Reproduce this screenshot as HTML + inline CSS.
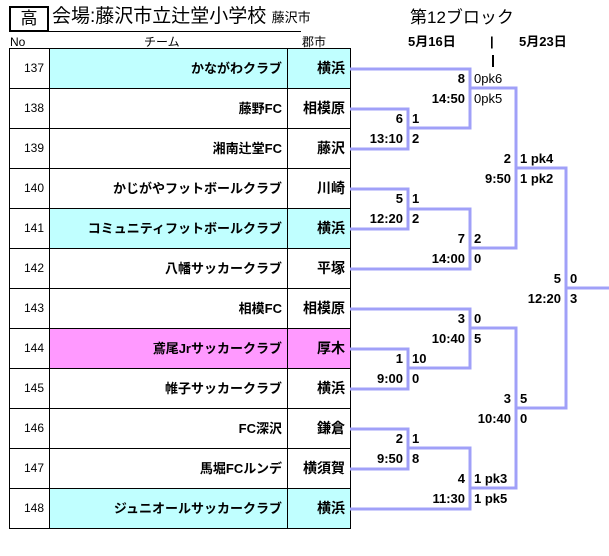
<!DOCTYPE html>
<html><head><meta charset="utf-8"><style>
body{margin:0;width:609px;height:556px;background:#fff;position:relative;overflow:hidden;font-family:"Liberation Sans","Noto Sans CJK JP",sans-serif;color:#000}
.a{position:absolute;white-space:nowrap;line-height:20px}
.r{text-align:right}
.c{position:absolute;box-sizing:border-box;border:1px solid #000;height:41px;line-height:39px;text-align:right;padding-right:5px;white-space:nowrap}
.n{left:9px;width:41px;font-size:12px}
.t{left:49px;width:239px;font-size:13px;font-weight:bold}
.k{left:287px;width:64px;font-size:14px;font-weight:bold}
.cy{background:#c0ffff}.pk{background:#ff99ff}
.l{position:absolute;font-size:13px;font-weight:bold;line-height:20px;white-space:nowrap}
</style></head><body>
<div class="a" style="left:9px;top:6px;width:36px;height:22px;border:2px solid #000;text-align:center;font-size:17px;line-height:22px">高</div>
<div class="a" style="left:52px;top:5px;font-size:19px;line-height:24px">会場:藤沢市立辻堂小学校 <span style="font-size:13px">藤沢市</span></div>
<div style="position:absolute;left:9px;top:31px;width:292px;border-top:1.5px solid #000"></div>
<div class="a" style="left:410px;top:8px;font-size:17px">第12ブロック</div>
<div class="a" style="left:408px;top:32px;font-size:13px;font-weight:bold">5月16日</div>
<div class="a" style="left:490px;top:32px;font-size:13px;font-weight:bold">|</div>
<div class="a" style="left:519px;top:32px;font-size:13px;font-weight:bold">5月23日</div>
<div style="position:absolute;left:492px;top:55px;width:2px;height:12px;background:#000"></div>
<div class="a" style="left:10px;top:32px;font-size:12px">No</div>
<div class="a" style="left:144px;top:32px;font-size:12px">チーム</div>
<div class="a" style="left:302px;top:32px;font-size:12px">郡市</div>

<div class="c n" style="top:48px">137</div><div class="c t cy" style="top:48px">かながわクラブ</div><div class="c k cy" style="top:48px">横浜</div>
<div class="c n" style="top:88px">138</div><div class="c t" style="top:88px">藤野FC</div><div class="c k" style="top:88px">相模原</div>
<div class="c n" style="top:128px">139</div><div class="c t" style="top:128px">湘南辻堂FC</div><div class="c k" style="top:128px">藤沢</div>
<div class="c n" style="top:168px">140</div><div class="c t" style="top:168px">かじがやフットボールクラブ</div><div class="c k" style="top:168px">川崎</div>
<div class="c n" style="top:208px">141</div><div class="c t cy" style="top:208px">コミュニティフットボールクラブ</div><div class="c k cy" style="top:208px">横浜</div>
<div class="c n" style="top:248px">142</div><div class="c t" style="top:248px">八幡サッカークラブ</div><div class="c k" style="top:248px">平塚</div>
<div class="c n" style="top:288px">143</div><div class="c t" style="top:288px">相模FC</div><div class="c k" style="top:288px">相模原</div>
<div class="c n" style="top:328px">144</div><div class="c t pk" style="top:328px">鳶尾Jrサッカークラブ</div><div class="c k pk" style="top:328px">厚木</div>
<div class="c n" style="top:368px">145</div><div class="c t" style="top:368px">帷子サッカークラブ</div><div class="c k" style="top:368px">横浜</div>
<div class="c n" style="top:408px">146</div><div class="c t" style="top:408px">FC深沢</div><div class="c k" style="top:408px">鎌倉</div>
<div class="c n" style="top:448px">147</div><div class="c t" style="top:448px">馬堀FCルンデ</div><div class="c k" style="top:448px">横須賀</div>
<div class="c n" style="top:488px">148</div><div class="c t cy" style="top:488px">ジュニオールサッカークラブ</div><div class="c k cy" style="top:488px">横浜</div>

<svg style="position:absolute;left:0;top:0" width="609" height="556"><g fill="none" stroke="#a0a0f8" stroke-width="3">
<polyline points="350,69 470,69 470,128 408,128"/>
<polyline points="350,109 408,109 408,149 350,149"/>
<polyline points="470,88 516,88 516,248 470,248"/>
<polyline points="350,189 408,189 408,229 350,229"/>
<polyline points="408,209 470,209 470,269 350,269"/>
<polyline points="516,168 566,168 566,408 516,408"/>
<line x1="566" y1="288" x2="609" y2="288"/>
<polyline points="350,309 470,309 470,368 408,368"/>
<polyline points="350,349 408,349 408,389 350,389"/>
<polyline points="470,328 516,328 516,488 470,488"/>
<polyline points="350,429 408,429 408,469 350,469"/>
<polyline points="408,448 470,448 470,509 350,509"/>
</g></svg>
<div class="l r" style="right:144px;top:69px">8</div><div class="l r" style="right:144px;top:89px">14:50</div>
<div class="l" style="left:474px;top:69px;font-weight:normal">0pk6</div><div class="l" style="left:474px;top:89px;font-weight:normal">0pk5</div>
<div class="l r" style="right:206px;top:109px">6</div><div class="l r" style="right:206px;top:129px">13:10</div>
<div class="l" style="left:412px;top:109px">1</div><div class="l" style="left:412px;top:129px">2</div>
<div class="l r" style="right:98px;top:149px">2</div><div class="l r" style="right:98px;top:169px">9:50</div>
<div class="l" style="left:520px;top:149px">1 pk4</div><div class="l" style="left:520px;top:169px">1 pk2</div>
<div class="l r" style="right:206px;top:189px">5</div><div class="l r" style="right:206px;top:209px">12:20</div>
<div class="l" style="left:412px;top:189px">1</div><div class="l" style="left:412px;top:209px">2</div>
<div class="l r" style="right:144px;top:229px">7</div><div class="l r" style="right:144px;top:249px">14:00</div>
<div class="l" style="left:474px;top:229px">2</div><div class="l" style="left:474px;top:249px">0</div>
<div class="l r" style="right:48px;top:269px">5</div><div class="l r" style="right:48px;top:289px">12:20</div>
<div class="l" style="left:570px;top:269px">0</div><div class="l" style="left:570px;top:289px">3</div>
<div class="l r" style="right:144px;top:309px">3</div><div class="l r" style="right:144px;top:329px">10:40</div>
<div class="l" style="left:474px;top:309px">0</div><div class="l" style="left:474px;top:329px">5</div>
<div class="l r" style="right:206px;top:349px">1</div><div class="l r" style="right:206px;top:369px">9:00</div>
<div class="l" style="left:412px;top:349px">10</div><div class="l" style="left:412px;top:369px">0</div>
<div class="l r" style="right:98px;top:389px">3</div><div class="l r" style="right:98px;top:409px">10:40</div>
<div class="l" style="left:520px;top:389px">5</div><div class="l" style="left:520px;top:409px">0</div>
<div class="l r" style="right:206px;top:429px">2</div><div class="l r" style="right:206px;top:449px">9:50</div>
<div class="l" style="left:412px;top:429px">1</div><div class="l" style="left:412px;top:449px">8</div>
<div class="l r" style="right:144px;top:469px">4</div><div class="l r" style="right:144px;top:489px">11:30</div>
<div class="l" style="left:474px;top:469px">1 pk3</div><div class="l" style="left:474px;top:489px">1 pk5</div>
</body></html>
